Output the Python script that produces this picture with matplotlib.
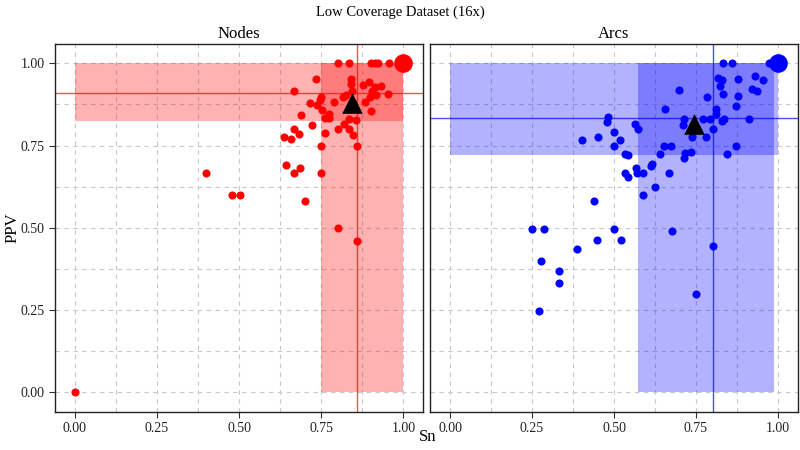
import numpy as np
import matplotlib
matplotlib.use("Agg")
import matplotlib.pyplot as plt

plt.rcParams['font.family'] = ['Liberation Serif', 'DejaVu Serif']

# Nodes panel data (Sn, PPV)
nodes_sn = [0.00, 0.40, 0.479, 0.502, 0.700, 0.800, 0.858, 0.643, 0.684, 0.667,
            0.750, 0.750, 0.858, 0.636, 0.659, 0.667, 0.682, 0.760, 0.800, 0.834,
            0.846, 0.722, 0.819, 0.834, 0.854, 0.689, 0.773, 0.760, 0.773, 0.752,
            0.738, 0.714, 0.745, 0.750, 0.787, 0.816, 0.826, 0.843, 0.667, 0.733,
            0.841, 0.841, 0.876, 0.894, 0.912, 0.932, 0.905, 0.915, 0.897, 0.884,
            0.952, 0.900, 0.800, 0.834, 0.902, 0.912, 0.922, 0.957]
nodes_ppv = [0.00, 0.665, 0.599, 0.599, 0.582, 0.498, 0.460, 0.690, 0.682, 0.665,
             0.665, 0.749, 0.749, 0.776, 0.769, 0.799, 0.786, 0.789, 0.799, 0.799,
             0.783, 0.811, 0.817, 0.832, 0.827, 0.844, 0.847, 0.834, 0.834, 0.859,
             0.874, 0.880, 0.888, 0.898, 0.882, 0.898, 0.905, 0.915, 0.916, 0.953,
             0.951, 0.938, 0.933, 0.943, 0.928, 0.931, 0.915, 0.905, 0.898, 0.882,
             0.908, 0.855, 1.0, 1.0, 1.0, 1.0, 1.0, 1.0]
nodes_mean = (0.842, 0.878)
nodes_median = (0.857, 0.909)
nodes_sn_range = (0.75, 1.0)
nodes_ppv_range = (0.825, 1.0)

# Arcs panel data (Sn, PPV)
arcs_sn = [0.833, 0.859, 0.972, 0.818, 0.828, 0.823, 0.877, 0.930, 0.953, 0.922,
           0.935, 0.699, 0.833, 0.785, 0.877, 0.872, 0.655, 0.810, 0.811, 0.483,
           0.480, 0.714, 0.770, 0.793, 0.836, 0.828, 0.911, 0.564, 0.572, 0.709,
           0.801, 0.500, 0.452, 0.518, 0.401, 0.739, 0.780, 0.500, 0.652, 0.674,
           0.872, 0.640, 0.718, 0.734, 0.714, 0.844, 0.534, 0.544, 0.615, 0.612,
           0.567, 0.589, 0.571, 0.534, 0.544, 0.668, 0.626, 0.588, 0.438, 0.251,
           0.288, 0.500, 0.676, 0.449, 0.520, 0.388, 0.801, 0.277, 0.333, 0.333,
           0.750, 0.272]
arcs_ppv = [1.0, 1.0, 1.0, 0.955, 0.948, 0.931, 0.953, 0.961, 0.950, 0.923,
            0.916, 0.918, 0.908, 0.898, 0.901, 0.869, 0.862, 0.862, 0.847, 0.837,
            0.822, 0.832, 0.832, 0.832, 0.832, 0.824, 0.832, 0.817, 0.799, 0.814,
            0.799, 0.791, 0.776, 0.768, 0.768, 0.776, 0.776, 0.749, 0.749, 0.749,
            0.749, 0.725, 0.727, 0.730, 0.712, 0.725, 0.725, 0.720, 0.695, 0.687,
            0.682, 0.665, 0.665, 0.665, 0.654, 0.665, 0.624, 0.599, 0.582, 0.497,
            0.497, 0.497, 0.489, 0.462, 0.462, 0.436, 0.443, 0.399, 0.367, 0.331,
            0.299, 0.248]
arcs_mean = (0.745, 0.815)
arcs_median = (0.801, 0.833)
arcs_sn_range = (0.572, 0.988)
arcs_ppv_range = (0.72, 1.0)

major = [0, 0.25, 0.5, 0.75, 1.0]
minor = [0.125, 0.375, 0.625, 0.875]
tick_labels = ['0.00', '0.25', '0.50', '0.75', '1.00']


def draw_panel(ax, sn, ppv, mean, median, sn_range, ppv_range, color, title, show_y):
  ax.set_xlim(-0.06, 1.06)
  ax.set_ylim(-0.06, 1.06)
  ax.set_xticks(major)
  ax.set_xticklabels(tick_labels)
  ax.set_yticks(major)
  ax.set_xticks(minor, minor=True)
  ax.set_yticks(minor, minor=True)
  ax.grid(which='both', color='#c8c8c8', linestyle=(0, (4, 4)), lw=0.8)
  ax.set_axisbelow(True)
  ax.tick_params(which='minor', length=0)
  ax.tick_params(which='major', direction='out', length=4, labelsize=10,
                 color='#333333', labelcolor='#222222')
  if show_y:
    ax.set_yticklabels(tick_labels)
  else:
    ax.tick_params(axis='y', left=False, labelleft=False)
  for s in ax.spines.values():
    s.set_color('#222222')
    s.set_linewidth(1.0)

  # bands: PPV range across all Sn, and Sn range across all PPV
  ax.fill_between([0, 1], ppv_range[0], ppv_range[1], color=color,
                  alpha=0.3, lw=0, zorder=1)
  ax.fill_between([sn_range[0], sn_range[1]], 0, 1, color=color,
                  alpha=0.3, lw=0, zorder=1)
  ax.axhline(median[1], color=color, alpha=0.7, lw=1, zorder=2)
  ax.axvline(median[0], color=color, alpha=0.7, lw=1, zorder=2)

  ax.scatter(sn, ppv, s=34, color=color, lw=0, zorder=3)
  ax.scatter([1.0], [1.0], s=180, color=color, lw=0, zorder=3)
  ax.scatter([mean[0]], [mean[1]], marker='^', s=220, color='black',
             lw=0, zorder=4)
  ax.set_title(title, fontsize=12, pad=4)


fig = plt.figure(figsize=(8, 4.5), dpi=100)
ax1 = fig.add_axes([0.069, 0.085, 0.46, 0.818])
ax2 = fig.add_axes([0.538, 0.085, 0.459, 0.818])

draw_panel(ax1, nodes_sn, nodes_ppv, nodes_mean, nodes_median,
           nodes_sn_range, nodes_ppv_range, '#ff0000', 'Nodes', True)
draw_panel(ax2, arcs_sn, arcs_ppv, arcs_mean, arcs_median,
           arcs_sn_range, arcs_ppv_range, '#0000ff', 'Arcs', False)

fig.text(0.5, 0.973, 'Low Coverage Dataset (16x)', ha='center', va='center', fontsize=10.5)
fig.text(0.535, 0.028, 'Sn', ha='center', va='center', fontsize=12)
fig.text(0.016, 0.493, 'PPV', ha='center', va='center', rotation=90, fontsize=12)

plt.savefig('out.png', dpi=100)
